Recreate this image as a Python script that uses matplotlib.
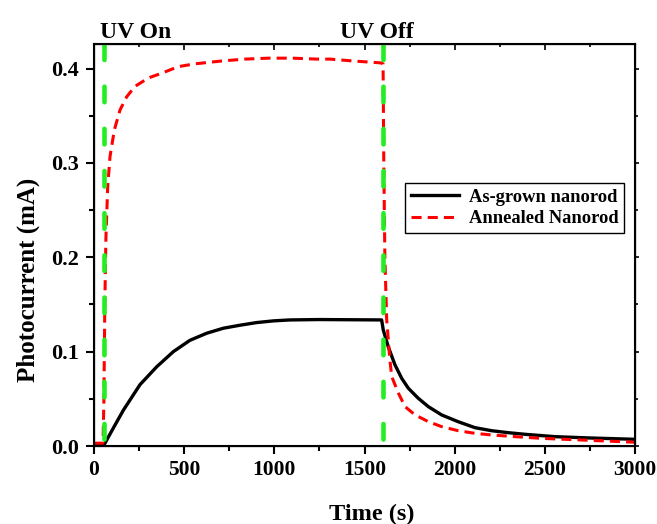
import numpy as np
import matplotlib
matplotlib.use("Agg")
import matplotlib.pyplot as plt
from matplotlib.ticker import MultipleLocator

plt.rcParams['font.family'] = ['Liberation Serif', 'DejaVu Serif']
plt.rcParams['font.weight'] = 'bold'

# values
t_grown = [0, 55, 61, 110, 163, 255, 348, 440, 532, 625, 717, 810, 902, 995, 1087, 1250, 1595,
           1604, 1632, 1669, 1706, 1743, 1798, 1854, 1928, 2020, 2113, 2205, 2298, 2390, 2556, 2750, 3000]
i_grown = [0.001, 0.001, 0.003, 0.020, 0.038, 0.065, 0.084, 0.100, 0.112, 0.1195, 0.1248, 0.128, 0.1308,
           0.1326, 0.1336, 0.134, 0.1336,
           0.123, 0.105, 0.086, 0.0718, 0.0612, 0.0506, 0.0417, 0.0329, 0.0257, 0.0194, 0.0162, 0.0141,
           0.0124, 0.0099, 0.0085, 0.0071]

t_annealed = [0, 50, 55, 60, 66, 76, 89, 113, 144, 181, 227, 301, 375, 467, 560, 708, 837, 967, 1100,
              1235, 1309, 1437, 1590, 1603,
              1607, 1613, 1623, 1641, 1651, 1688, 1725, 1780, 1854, 1928, 2020, 2113, 2205, 2335, 2483,
              2750, 3000]
i_annealed = [0.003, 0.003, 0.05, 0.15, 0.22, 0.275, 0.307, 0.335, 0.356, 0.370, 0.381, 0.390, 0.395,
              0.402, 0.405, 0.408, 0.410, 0.411, 0.411, 0.410, 0.410, 0.408, 0.406, 0.405,
              0.30, 0.20, 0.134, 0.091, 0.0735, 0.056, 0.0417, 0.033, 0.0258, 0.0205, 0.0162, 0.0134,
              0.0117, 0.0099, 0.0081, 0.0060, 0.004]

uv_on = 55
uv_off = 1603

fig = plt.figure(figsize=(6.57, 5.24), dpi=100)
ax = fig.add_axes([94/657, 1-446/524, 541/657, 402/524])

ax.plot(t_grown, i_grown, color='black', lw=2.4, label='As-grown nanorod', solid_joinstyle='round')
ax.plot(t_annealed, i_annealed, color='red', lw=2.2, ls=(0, (3.3, 2.0)), label='Annealed Nanorod')

ymax = 0.426
for xv in (uv_on, uv_off):
    # drawn from the top down so the dash pattern starts at the top spine
    ax.plot([xv, xv], [ymax, 0], color='#22ee22', lw=3.3, ls=(0, (3.4, 5.8)), zorder=3,
            dash_capstyle='round')

ax.set_xlim(0, 3000)
ax.set_ylim(0, ymax)
ax.xaxis.set_major_locator(MultipleLocator(500))
ax.xaxis.set_minor_locator(MultipleLocator(250))
ax.yaxis.set_major_locator(MultipleLocator(0.1))
ax.yaxis.set_minor_locator(MultipleLocator(0.05))
ax.tick_params(which='both', direction='out', width=1.5, labelsize=15.5, top=False, right=False)
ax.tick_params(which='major', length=6, pad=4)
ax.tick_params(which='minor', length=3.5)
ax.tick_params(axis='y', labelsize=16, pad=5)
ax.yaxis.set_major_formatter(plt.FuncFormatter(lambda v, p: f"{v:.1f}"))
for s in ax.spines.values():
    s.set_linewidth(1.5)

ax2 = ax.twiny()
ax2.set_xlim(ax.get_xlim())
ax2.xaxis.set_major_locator(MultipleLocator(500))
ax2.xaxis.set_minor_locator(MultipleLocator(250))
ax2.tick_params(which='both', direction='in', labeltop=False, width=1.2)
ax2.tick_params(which='major', length=4)
ax2.tick_params(which='minor', length=2.5)
ax3 = ax.twinx()
ax3.set_ylim(ax.get_ylim())
ax3.yaxis.set_major_locator(MultipleLocator(0.1))
ax3.yaxis.set_minor_locator(MultipleLocator(0.05))
ax3.tick_params(which='both', direction='out', labelright=False, width=1.2)
ax3.tick_params(which='major', length=3)
ax3.tick_params(which='minor', length=2)

ax.set_xlabel('Time (s)', fontsize=17.5, fontweight='bold')
ax.set_ylabel('Photocurrent (mA)', fontsize=18, fontweight='bold')
ax.xaxis.set_label_coords(0.514, -0.143, transform=ax.transAxes)
ax.yaxis.set_label_coords(-0.122, 0.413, transform=ax.transAxes)
ax.xaxis.label.set_va('top')
ax.yaxis.label.set_va('center')

ax.text(33, 1.015, 'UV On', transform=ax.get_xaxis_transform(), fontsize=17,
        fontweight='bold', va='baseline', ha='left')
ax.text(1364, 1.015, 'UV Off', transform=ax.get_xaxis_transform(), fontsize=17,
        fontweight='bold', va='baseline', ha='left')

leg = ax.legend(loc='upper right', bbox_to_anchor=(0.98, 0.655), fontsize=13.3, frameon=True,
                fancybox=False, edgecolor='black', framealpha=1, handlelength=2.6,
                borderpad=0.32, labelspacing=0.25, handletextpad=0.5, borderaxespad=0)
leg.get_frame().set_linewidth(1.0)

fig.savefig('out.png', dpi=100)
